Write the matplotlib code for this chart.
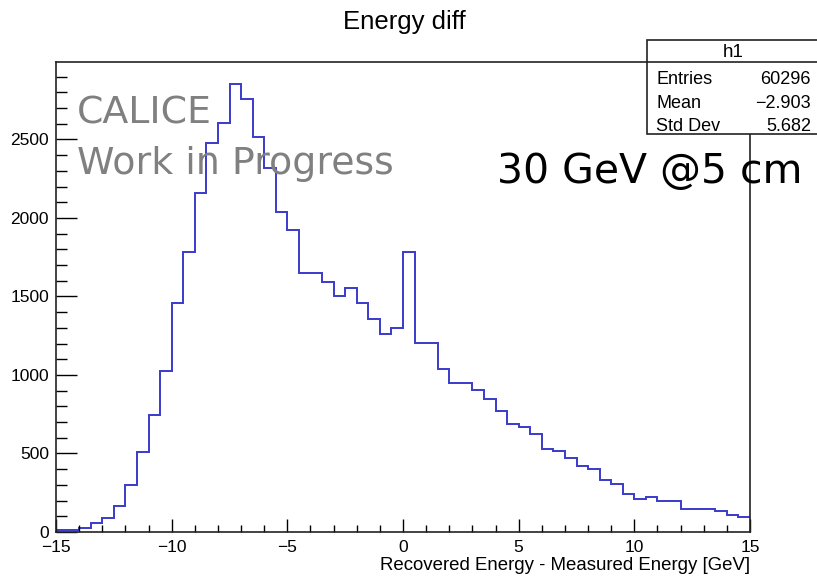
import numpy as np
import matplotlib
matplotlib.use("Agg")
import matplotlib.pyplot as plt
from matplotlib.ticker import MultipleLocator

# Histogram content: 60 bins of 0.5 GeV between -15 and 15 GeV
x_min, x_max, n_bins = -15.0, 15.0, 60
counts = [
    10, 10, 23, 57, 87, 168, 301, 507, 745, 1023,
    1457, 1781, 2161, 2480, 2607, 2851, 2756, 2518, 2321, 2037,
    1924, 1650, 1650, 1594, 1505, 1554, 1459, 1359, 1259, 1301,
    1781, 1204, 1204, 1038, 951, 951, 902, 849, 771, 690,
    667, 626, 527, 516, 471, 418, 403, 329, 308, 244,
    212, 223, 197, 197, 149, 149, 149, 134, 106, 96,
]
x_ticks = [-15, -10, -5, 0, 5, 10, 15]
y_ticks = [0, 500, 1000, 1500, 2000, 2500]

hist_name = "h1"
stat_labels = ["Entries", "Mean", "Std Dev"]
stat_values = ["60296", "\u22122.903", "5.682"]

W, H = 817, 578
DPI = 100
fig = plt.figure(figsize=(W / DPI, H / DPI), dpi=DPI)
plt.rcParams["font.family"] = ["Liberation Sans", "DejaVu Sans"]

def fx(px):
    return px / W

def fy(py):
    return 1 - py / H

ax = fig.add_axes([fx(56), fy(532), fx(750) - fx(56), fy(62) - fy(532)])

edges = np.linspace(x_min, x_max, n_bins + 1)
ax.stairs(counts, edges, baseline=None, color="#3a3acd", linewidth=1.4)

ax.set_xlim(x_min, x_max)
ax.set_ylim(0, 1.05 * max(counts))

ax.set_xticks(x_ticks)
ax.set_xticklabels([f"{t}".replace("-", "\u2212") for t in x_ticks])
ax.set_yticks(y_ticks)
ax.xaxis.set_minor_locator(MultipleLocator(1))
ax.yaxis.set_minor_locator(MultipleLocator(100))

ax.tick_params(axis="x", which="major", direction="in", length=9.5, width=1.0,
               labelsize=12.5, pad=5.5, top=False)
ax.tick_params(axis="x", which="minor", direction="in", length=5, width=1.0, top=False)
ax.tick_params(axis="y", which="major", direction="in", length=15, width=1.0,
               labelsize=12.5, pad=5, right=False)
ax.tick_params(axis="y", which="minor", direction="in", length=8, width=1.0, right=False)

for side in ax.spines.values():
    side.set_linewidth(1.2)
    side.set_color("#222222")

ax.set_xlabel("Recovered Energy - Measured Energy [GeV]", fontsize=13.4,
              loc="right", labelpad=1.5)

# Title
fig.text(fx(404), fy(29), "Energy diff", ha="center", va="baseline", fontsize=18.5)

# Statistics box
box_l, box_r, box_t, box_m, box_b = 647, 819, 40, 62, 134
box = plt.Rectangle((fx(box_l), fy(box_b)), fx(box_r) - fx(box_l), fy(box_t) - fy(box_b),
                    transform=fig.transFigure, facecolor="white", edgecolor="#222222",
                    linewidth=1.2, zorder=5)
fig.patches.append(box)
fig.add_artist(plt.Line2D([fx(box_l), fx(box_r)], [fy(box_m), fy(box_m)],
                          transform=fig.transFigure, color="#222222", linewidth=1.2, zorder=6))
fig.text(fx(733), fy(57), hist_name, ha="center", va="baseline", fontsize=13.5, zorder=7)
for i, (lab, val) in enumerate(zip(stat_labels, stat_values)):
    base = 84 + i * 23.5
    fig.text(fx(656), fy(base), lab, ha="left", va="baseline", fontsize=13, zorder=7)
    fig.text(fx(811), fy(base), val, ha="right", va="baseline", fontsize=13, zorder=7)

# Annotations
fig.text(fx(77), fy(123), "CALICE", ha="left", va="baseline", fontsize=27.3,
         color="#808080", family="DejaVu Sans")
fig.text(fx(77), fy(174), "Work in Progress", ha="left", va="baseline", fontsize=27.3,
         color="#808080", family="DejaVu Sans")
fig.text(fx(497), fy(183), "30 GeV @5 cm", ha="left", va="baseline", fontsize=29.5,
         color="black", family="DejaVu Sans")

fig.savefig("out.png", dpi=DPI)
